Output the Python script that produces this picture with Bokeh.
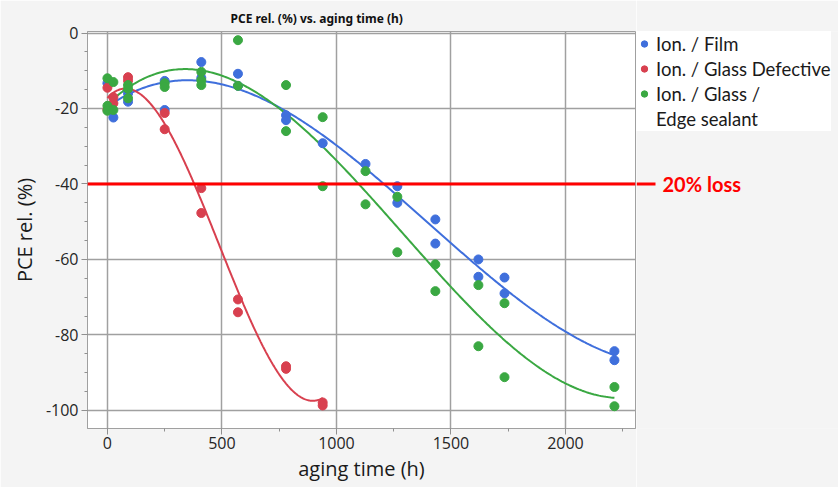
import numpy as np
from bokeh.plotting import figure
from bokeh.layouts import row
from bokeh.models import (Range1d, SingleIntervalTicker, Legend, LegendItem, Label, Span)
from bokeh.embed import file_html
from bokeh.resources import INLINE

# ---------------- data ----------------
series_names = ["Ion. / Film", "Ion. / Glass Defective", "Ion. / Glass /", "Edge sealant"]

film_t = [0, 26, 90, 90, 250, 250, 410, 410, 570, 570, 780, 780, 940,
          1127, 1266, 1266, 1432, 1432, 1620, 1620, 1734, 1734, 2214, 2214]
film_y = [-13.3, -22.4, -16.0, -18.2, -12.7, -20.4, -7.7, -11.9, -10.8, -14.0,
          -21.8, -23.1, -29.2, -34.7, -40.6, -45.0, -49.4, -55.8, -60.0, -64.6,
          -64.8, -69.0, -84.3, -86.7]

defect_t = [0, 0, 26, 26, 90, 90, 250, 250, 410, 410, 570, 570, 780, 780, 940, 940]
defect_y = [-14.5, -20.3, -17.0, -18.6, -11.7, -12.6, -21.2, -25.5, -41.1, -47.7,
            -70.6, -74.0, -88.3, -89.0, -97.9, -98.7]

edge_t = [0, 0, 0, 26, 26, 90, 90, 90, 250, 250, 410, 410, 410, 570, 570, 780, 780,
          940, 940, 1127, 1127, 1266, 1266, 1432, 1432, 1620, 1620, 1734, 1734, 2214, 2214]
edge_y = [-12.0, -19.3, -20.6, -13.0, -20.4, -13.8, -14.8, -17.3, -13.3, -14.3,
          -10.3, -12.5, -13.8, -1.9, -14.0, -13.8, -26.0, -22.3, -40.6, -36.6, -45.4,
          -43.4, -58.1, -61.3, -68.4, -66.8, -83.0, -71.6, -91.2, -93.8, -98.9]

y_ticks = [-100, -80, -60, -40, -20, 0]
y_tick_labels = ["-100", "-80", "-60", "-40", "-20", "0"]

loss_level = -40
loss_text = "20% loss"
title_text = "PCE rel. (%) vs. aging time (h)"
x_title = "aging time (h)"
y_title = "PCE rel. (%)"

BLUE = "#3f6fdc"
RED = "#d8404f"
GREEN = "#3aa842"
LOSS_RED = "#ff0000"
BG = "#f4f4f4"

# ---------------- main figure ----------------
p = figure(width=636, height=487,
           x_range=Range1d(-87, 2306), y_range=Range1d(-104.8, 0.4),
           output_backend="svg", toolbar_location=None,
           min_border_left=87, min_border_right=1,
           min_border_top=31, min_border_bottom=59,
           background_fill_color="white", border_fill_color=BG)
p.outline_line_color = "#a0a0a0"
p.outline_line_width = 1

p.title.text = title_text
p.title.text_font = "Noto Sans"
p.title.text_font_size = "12px"
p.title.text_font_style = "bold"
p.title.text_color = "#111111"
p.title.align = "left"
p.title.offset = 143
p.title.standoff = 9

p.xaxis.ticker = SingleIntervalTicker(interval=500, num_minor_ticks=2)
p.yaxis.ticker = SingleIntervalTicker(interval=20, num_minor_ticks=4)
p.yaxis.major_label_overrides = {v: s for v, s in zip(y_ticks, y_tick_labels)}
for ax in (p.xaxis[0], p.yaxis[0]):
    ax.axis_line_color = "#a0a0a0"
    ax.major_tick_line_color = "#909090"
    ax.minor_tick_line_color = "#909090"
    ax.major_tick_out = 6
    ax.major_tick_in = 0
    ax.minor_tick_out = 3
    ax.minor_tick_in = 0
    ax.major_label_text_font = "Open Sans"
    ax.major_label_text_font_size = "16px"
    ax.major_label_text_color = "#262626"
    ax.axis_label_text_font = "Open Sans"
    ax.axis_label_text_font_size = "20px"
    ax.axis_label_text_font_style = "normal"
    ax.axis_label_text_color = "#1a1a1a"
p.xaxis.axis_label = x_title
p.yaxis.axis_label = y_title
p.xaxis.major_label_standoff = 2
p.yaxis.major_label_standoff = 3
p.xaxis.axis_label_standoff = 3
p.yaxis.axis_label_standoff = 5

p.xgrid.ticker = SingleIntervalTicker(interval=500)
p.ygrid.ticker = SingleIntervalTicker(interval=20)
for g in (p.xgrid[0], p.ygrid[0]):
    g.grid_line_color = "#a0a0a0"
    g.grid_line_width = 1.5

# fitted curves (cubic least-squares fit of each series)
def fit_curve(t, y, deg=3):
    coef = np.polyfit(t, y, deg)
    xs = np.linspace(min(t), max(t), 300)
    return xs, np.polyval(coef, xs)

for t, y, c in ((film_t, film_y, BLUE), (defect_t, defect_y, RED), (edge_t, edge_y, GREEN)):
    xs, ys = fit_curve(t, y)
    p.line(xs, ys, line_color=c, line_width=2)

p.scatter(film_t, film_y, size=9, color=BLUE)
p.scatter(defect_t, defect_y, size=9, color=RED)
p.scatter(edge_t, edge_y, size=9, color=GREEN)

p.add_layout(Span(location=loss_level, dimension="width", line_color=LOSS_RED, line_width=3))

# ---------------- right-hand panel: legend + loss label ----------------
p2 = figure(width=202, height=487, x_range=Range1d(0, 202), y_range=p.y_range,
            output_backend="svg", toolbar_location=None,
            x_axis_type=None, y_axis_type=None,
            min_border_left=0, min_border_right=0,
            min_border_top=31, min_border_bottom=59,
            background_fill_color=BG, border_fill_color=BG)
p2.outline_line_color = None

line_ext = [0, 19]          # extension of the 20% loss line past the frame (px)
p2.line(line_ext, [loss_level, loss_level], line_color=LOSS_RED, line_width=3)
p2.add_layout(Label(x=26, y=loss_level, text=loss_text, text_baseline="middle",
                    text_font="Lato", text_font_size="20px", text_font_style="bold",
                    text_color=LOSS_RED))

# legend-only renderers (a single NaN point, never drawn)
nan_pt = [float("nan")]
l_film = p2.scatter(nan_pt, nan_pt, size=9, color=BLUE)
l_defect = p2.scatter(nan_pt, nan_pt, size=9, color=RED)
l_edge = p2.scatter(nan_pt, nan_pt, size=9, color=GREEN)
l_blank = p2.scatter(nan_pt, nan_pt, size=9, fill_alpha=0, line_alpha=0)

legend = Legend(items=[LegendItem(label=series_names[0], renderers=[l_film]),
                       LegendItem(label=series_names[1], renderers=[l_defect]),
                       LegendItem(label=series_names[2], renderers=[l_edge]),
                       LegendItem(label=series_names[3], renderers=[l_blank])],
                location="top_left", padding=5, margin=0, spacing=0,
                glyph_width=16, glyph_height=25, label_height=25, label_standoff=4,
                label_text_font="Lato", label_text_font_size="18.5px",
                label_text_color="#1a1a1a",
                border_line_color=None, background_fill_color="white",
                background_fill_alpha=1)
p2.add_layout(legend, "center")

layout = row(p, p2, spacing=0)
open("out.html", "w").write(file_html(layout, INLINE))
